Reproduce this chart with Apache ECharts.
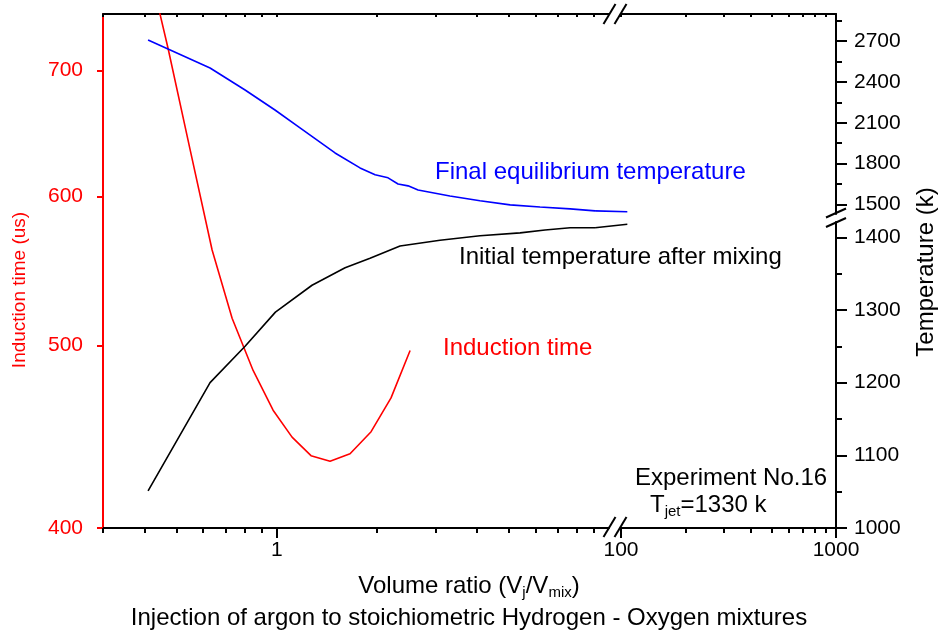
<!DOCTYPE html>
<html><head><meta charset="utf-8">
<script src="https://cdn.jsdelivr.net/npm/echarts@6/dist/echarts.min.js"></script>
<style>html,body{margin:0;padding:0;background:#fff}#c{width:942px;height:635px}</style>
</head><body><div id="c"></div>
<script>
// ---- data ----
const inductionX    = [0.410, 0.471, 0.548, 0.639, 0.734, 0.849, 0.975, 1.112, 1.268, 1.447, 1.662, 1.923, 2.208, 2.520];
const inductionTime = [798, 719, 636, 562, 517, 485, 462, 447, 437, 434, 438, 450, 469, 497];
const finalX    = [0.410, 0.630, 0.803, 0.988, 1.175, 1.498, 1.781, 1.977, 2.163, 2.318, 2.485, 2.663, 3.32, 4.09, 5.04, 6.20, 7.64, 9.08, 107];
const finalTemp = [2709, 2503, 2341, 2194, 2062, 1878, 1768, 1717, 1695, 1650, 1636, 1606, 1562, 1526, 1496, 1481, 1467, 1452, 1446];
const initialX    = [0.410, 0.630, 0.803, 0.991, 1.277, 1.606, 1.909, 2.350, 3.10, 4.09, 5.40, 6.42, 7.64, 9.08, 107];
const initialTemp = [1051, 1200, 1250, 1297, 1334, 1358, 1371, 1388, 1396, 1402, 1406, 1410, 1413, 1413, 1418];

// ---- tick labels ----
const xLeftMajor  = [1];
const xLeftMinor  = [0.3, 0.4, 0.5, 0.6, 0.7, 0.8, 0.9, 2, 3, 4, 5, 6, 7, 8, 9];
const xRightMajor = [100, 1000];
const xRightMinor = [200, 300, 400, 500, 600, 700, 800, 900];
const yLeftTicks  = [400, 500, 600, 700];
const yUpperTicks = [1500, 1800, 2100, 2400, 2700];
const yUpperMinor = [1650, 1950, 2250, 2550, 2850];
const yLowerTicks = [1000, 1100, 1200, 1300, 1400];
const yLowerMinor = [1050, 1150, 1250, 1350];

// axis segment limits (x axis broken between 10 and 100)
const X_LEFT_MAX = 10, X_RIGHT_MIN = 100;

const FONT = '"Liberation Sans", Arial, Helvetica, sans-serif';
const zip = (a, b) => a.map((v, i) => [v, b[i]]);
const fmt = v => String(Math.round(v));
const BLK = '#000', RED = '#ff0000', BLUE = '#0000ff';
const TICK_FS = 21, TEXT_FS = 24;

function xAx(grid, min, max, pos, opts) {
  return Object.assign({
    gridIndex: grid, type: 'log', logBase: 10, min: min, max: max, position: pos,
    axisLine: { show: false, onZero: false },
    axisTick: { show: false }, axisLabel: { show: false },
    splitLine: { show: false }, minorTick: { show: false }, minorSplitLine: { show: false }
  }, opts || {});
}
function ticks(vals, len, inside, color) {
  return { show: true, inside: !!inside, length: len, customValues: vals, lineStyle: { color: color || BLK, width: 2 } };
}
function labels(vals, color, margin) {
  return { show: true, customValues: vals, color: color || BLK, fontSize: TICK_FS, fontFamily: FONT, margin: margin, formatter: fmt };
}
const line2 = c => ({ show: true, onZero: false, lineStyle: { color: c, width: 2 } });
const G0 = { containLabel: false, outerBoundsMode: 'none' };
const gridAt = (l, t, w, h) => Object.assign({ left: l, top: t, width: w, height: h }, G0);

const chart = echarts.init(document.getElementById('c'), null, { renderer: 'canvas' });

const leftPart  = (xs, ys) => zip(xs, ys).filter(p => p[0] <= X_LEFT_MAX);
const rightPart = (xs, ys) => zip(xs, ys).filter(p => p[0] >= X_RIGHT_MIN);
const lineSeries = (name, xi, yi, data, color) => ({
  name: name, type: 'line', xAxisIndex: xi, yAxisIndex: yi, data: data,
  symbol: 'none', clip: true, silent: true, lineStyle: { color: color, width: 1.6 }
});

const option = {
  animation: false,
  backgroundColor: '#fff',
  grid: [
    gridAt(103, 14, 506, 514),  // 0 left x-segment, full height
    gridAt(621, 14, 215, 514),  // 1 right x-segment
    gridAt(103, 14, 506, 200),  // 2 upper T, left
    gridAt(621, 14, 215, 200),  // 3 upper T, right
    gridAt(103, 222, 506, 306), // 4 lower T, left
    gridAt(621, 222, 215, 306)  // 5 lower T, right
  ],
  xAxis: [
    xAx(0, 0.3, X_LEFT_MAX, 'bottom', { axisLine: line2(BLK), axisTick: ticks(xLeftMajor, 10), axisLabel: labels(xLeftMajor, BLK, 12) }), // 0
    xAx(0, 0.3, X_LEFT_MAX, 'bottom', { axisTick: ticks(xLeftMinor, 5) }),                                                              // 1
    xAx(0, 0.3, X_LEFT_MAX, 'top', { axisLine: line2(BLK), axisTick: ticks(xLeftMinor.concat(xLeftMajor), 3, true) }),                // 2
    xAx(1, X_RIGHT_MIN, 1000, 'bottom', { axisLine: line2(BLK), axisTick: ticks(xRightMajor, 10), axisLabel: labels(xRightMajor, BLK, 12) }), // 3
    xAx(1, X_RIGHT_MIN, 1000, 'bottom', { axisTick: ticks(xRightMinor, 5) }),                                                           // 4
    xAx(1, X_RIGHT_MIN, 1000, 'top', { axisLine: line2(BLK), axisTick: ticks(xRightMinor.concat(xRightMajor), 3, true) }),            // 5
    xAx(2, 0.3, X_LEFT_MAX, 'bottom', { show: false }),   // 6
    xAx(3, X_RIGHT_MIN, 1000, 'bottom', { show: false }), // 7
    xAx(4, 0.3, X_LEFT_MAX, 'bottom', { show: false }),   // 8
    xAx(5, X_RIGHT_MIN, 1000, 'bottom', { show: false })  // 9
  ],
  yAxis: [
    { gridIndex: 0, type: 'log', logBase: 10, min: 400, max: 750, position: 'left',
      axisLine: line2(RED), axisTick: ticks(yLeftTicks, 6, false, RED), axisLabel: labels(yLeftTicks, RED, 20),
      splitLine: { show: false } },                                                                   // 0
    { gridIndex: 1, type: 'value', show: false, min: 0, max: 1 },                                     // 1
    { gridIndex: 2, type: 'value', show: false, min: 1429, max: 2900 },                               // 2
    { gridIndex: 3, type: 'value', min: 1429, max: 2900, position: 'right',
      axisLine: line2(BLK), axisTick: ticks(yUpperTicks, 11), axisLabel: labels(yUpperTicks, BLK, 18),
      splitLine: { show: false } },                                                                   // 3
    { gridIndex: 3, type: 'value', min: 1429, max: 2900, position: 'right',
      axisLine: { show: false }, axisTick: ticks(yUpperMinor, 6), axisLabel: { show: false },
      splitLine: { show: false } },                                                                   // 4
    { gridIndex: 4, type: 'value', show: false, min: 1000, max: 1421 },                               // 5
    { gridIndex: 5, type: 'value', min: 1000, max: 1421, position: 'right',
      axisLine: line2(BLK), axisTick: ticks(yLowerTicks, 11), axisLabel: labels(yLowerTicks, BLK, 18),
      splitLine: { show: false } },                                                                   // 6
    { gridIndex: 5, type: 'value', min: 1000, max: 1421, position: 'right',
      axisLine: { show: false }, axisTick: ticks(yLowerMinor, 6), axisLabel: { show: false },
      splitLine: { show: false } }                                                                    // 7
  ],
  series: [
    lineSeries('Induction time', 0, 0, zip(inductionX, inductionTime), RED),                       // 0
    lineSeries('Final equilibrium temperature', 6, 2, leftPart(finalX, finalTemp), BLUE),          // 1
    lineSeries('Final equilibrium temperature', 7, 3, rightPart(finalX, finalTemp), BLUE),         // 2
    lineSeries('Initial temperature after mixing', 8, 5, leftPart(initialX, initialTemp), BLK),    // 3
    lineSeries('Initial temperature after mixing', 9, 6, rightPart(initialX, initialTemp), BLK)    // 4
  ],
  graphic: { elements: [] }
};

function txt(x, y, text, color, size, extra) {
  return Object.assign({
    type: 'text', x: x, y: y, silent: true,
    style: Object.assign({
      text: text, fill: color, fontSize: size, fontFamily: FONT,
      align: 'left', verticalAlign: 'middle', textAlign: 'left', textVerticalAlign: 'middle'
    }, (extra && extra.style) || {})
  }, (extra && extra.el) || {});
}
function slash(x1, y1, x2, y2) {
  return { type: 'line', silent: true, shape: { x1: x1, y1: y1, x2: x2, y2: y2 }, style: { stroke: BLK, lineWidth: 2 } };
}
const subStyle = { fontSize: 15, fontFamily: FONT, fill: BLK, padding: [13, 0, 0, 0] };
const G = option.graphic.elements;
G.push(txt(435, 172, 'Final equilibrium temperature', BLUE, TEXT_FS));
G.push(txt(459, 257, 'Initial temperature after mixing', BLK, TEXT_FS));
G.push(txt(443, 348, 'Induction time', RED, TEXT_FS));
G.push(txt(635, 478, 'Experiment No.16', BLK, TEXT_FS));
G.push(txt(650, 505, 'T{s|jet}=1330 k', BLK, TEXT_FS, { style: { rich: { s: subStyle } } }));
G.push(txt(469, 586, 'Volume ratio (V{s|j}/V{s|mix})', BLK, TEXT_FS,
  { style: { align: 'center', textAlign: 'center', rich: { s: subStyle } } }));
G.push(txt(469, 618, 'Injection of argon to stoichiometric Hydrogen - Oxygen mixtures', BLK, TEXT_FS,
  { style: { align: 'center', textAlign: 'center' } }));
G.push(txt(20, 290, 'Induction time (us)', RED, 19,
  { style: { align: 'center', textAlign: 'center' }, el: { rotation: Math.PI / 2 } }));
G.push(txt(926, 272, 'Temperature (k)', BLK, TEXT_FS,
  { style: { align: 'center', textAlign: 'center' }, el: { rotation: Math.PI / 2 } }));
// axis break marks
G.push(slash(603.5, 24, 615.5, 4), slash(614.5, 24, 626.5, 4));
G.push(slash(603.5, 537, 615.5, 517), slash(614.5, 537, 626.5, 517));
G.push(slash(826, 217.5, 846, 208.5), slash(826, 227, 846, 218));

chart.setOption(option);

// Segment that crosses the x-axis break: its two end points are placed by the
// library's own scales (left and right segments), then joined by a bridge axis.
function addBridge(xs, ys, leftSeries, rightSeries, yRange, color) {
  const L = leftPart(xs, ys), R = rightPart(xs, ys);
  if (!L.length || !R.length) return;
  const a = L[L.length - 1], b = R[0];
  const pa = chart.convertToPixel({ seriesIndex: leftSeries }, a);
  const pb = chart.convertToPixel({ seriesIndex: rightSeries }, b);
  const lg = option.grid[option.series[leftSeries].yAxisIndex === 2 ? 2 : 4];
  const gi = option.grid.length;
  option.grid.push(gridAt(pa[0], lg.top, pb[0] - pa[0], lg.height));
  option.xAxis.push(xAx(gi, a[0], b[0], 'bottom', { show: false }));
  option.yAxis.push({ gridIndex: gi, type: 'value', show: false, min: yRange[0], max: yRange[1] });
  option.series.push({
    type: 'line', xAxisIndex: option.xAxis.length - 1, yAxisIndex: option.yAxis.length - 1,
    data: [a, b], symbol: 'none', clip: false, silent: true, lineStyle: { color: color, width: 1.6 }
  });
}
addBridge(finalX, finalTemp, 1, 2, [1429, 2900], BLUE);
addBridge(initialX, initialTemp, 3, 4, [1000, 1421], BLK);
chart.setOption(option, true);
</script>
</body></html>
